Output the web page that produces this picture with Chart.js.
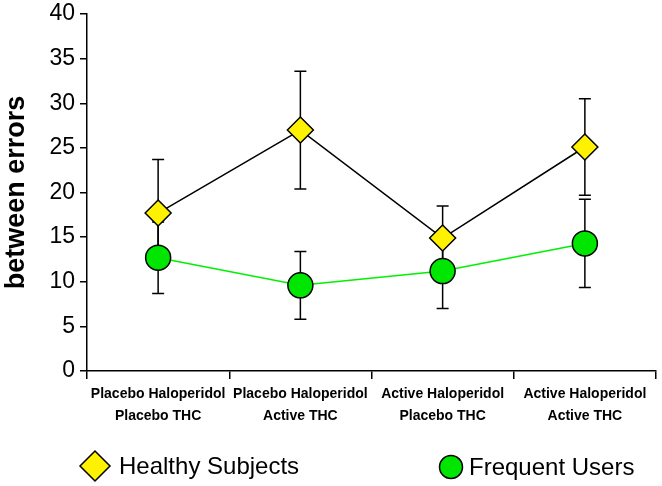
<!DOCTYPE html>
<html>
<head>
<meta charset="utf-8">
<script src="https://cdn.jsdelivr.net/npm/chart.js@4.4.1/dist/chart.umd.min.js"></script>
<style>
  html, body { margin: 0; padding: 0; background: #fff; overflow: hidden; }
  canvas { display: block; }
</style>
</head>
<body>
<canvas id="chart" width="662" height="486"></canvas>
<script>
// data
var conditions = [
    ['Placebo Haloperidol', 'Placebo THC'],
    ['Placebo Haloperidol', 'Active THC'],
    ['Active Haloperidol', 'Placebo THC'],
    ['Active Haloperidol', 'Active THC']
];
var healthyMeans = [17.7, 27.0, 14.9, 25.1];
var healthyErrors = [6.0, 6.6, 3.6, 5.4];
var frequentMeans = [12.7, 9.6, 11.2, 14.3];
var frequentErrors = [4.0, 3.8, 4.2, 4.95];
var yTicks = [0, 5, 10, 15, 20, 25, 30, 35, 40];

var FONT = "'Liberation Sans', Arial, Helvetica, sans-serif";

// error bars, drawn under the lines and markers
var errorBars = {
    id: 'errorBars',
    beforeDatasetsDraw: function (chart) {
        var ctx = chart.ctx;
        var y = chart.scales.y;
        ctx.save();
        ctx.strokeStyle = '#000';
        ctx.lineWidth = 1.5;
        chart.data.datasets.forEach(function (ds, i) {
            var meta = chart.getDatasetMeta(i);
            meta.data.forEach(function (pt, j) {
                var top = y.getPixelForValue(ds.data[j] + ds.errors[j]);
                var bot = y.getPixelForValue(ds.data[j] - ds.errors[j]);
                ctx.beginPath();
                ctx.moveTo(pt.x, top); ctx.lineTo(pt.x, bot);
                ctx.moveTo(pt.x - 6, top); ctx.lineTo(pt.x + 6, top);
                ctx.moveTo(pt.x - 6, bot); ctx.lineTo(pt.x + 6, bot);
                ctx.stroke();
            });
        });
        ctx.restore();
    }
};

// legend under the axis, spread like the original
var bottomLegend = {
    id: 'bottomLegend',
    afterDraw: function (chart) {
        var ctx = chart.ctx;
        var items = [
            { ds: chart.data.datasets[0], x: 95, y: 466, r: 15, tx: 119 },
            { ds: chart.data.datasets[1], x: 451, y: 467, r: 11.5, tx: 469 }
        ];
        ctx.save();
        items.forEach(function (it) {
            ctx.fillStyle = it.ds.pointBackgroundColor;
            ctx.strokeStyle = '#000';
            ctx.lineWidth = 1.5;
            Chart.helpers.drawPoint(ctx, { pointStyle: it.ds.pointStyle, radius: it.r, borderWidth: 1.5 }, it.x, it.y);
            ctx.fillStyle = '#000';
            ctx.font = '24px ' + FONT;
            ctx.textBaseline = 'middle';
            ctx.textAlign = 'left';
            ctx.fillText(it.ds.label, it.tx, it.y + 1);
        });
        ctx.restore();
    }
};

var ctx = document.getElementById('chart').getContext('2d');
var chart = new Chart(ctx, {
    type: 'line',
    data: {
        labels: conditions,
        datasets: [{
            label: 'Healthy Subjects',
            data: healthyMeans,
            errors: healthyErrors,
            borderColor: '#000',
            borderWidth: 1.5,
            pointStyle: 'rectRot',
            pointRadius: 13,
            pointHoverRadius: 13,
            pointBackgroundColor: '#fff200',
            pointBorderColor: '#000',
            pointBorderWidth: 1.5
        }, {
            label: 'Frequent Users',
            data: frequentMeans,
            errors: frequentErrors,
            borderColor: '#00f000',
            borderWidth: 1.5,
            pointStyle: 'circle',
            pointRadius: 12.5,
            pointHoverRadius: 12.5,
            pointBackgroundColor: '#00e600',
            pointBorderColor: '#000',
            pointBorderWidth: 1.5
        }]
    },
    options: {
        responsive: false,
        animation: false,
        layout: { autoPadding: false, padding: { top: 14, right: 6, bottom: 55, left: 0 } },
        plugins: {
            legend: { display: false },
            tooltip: { enabled: false }
        },
        scales: {
            x: {
                offset: true,
                afterFit: function (scale) { scale.paddingLeft = 0; scale.paddingRight = 0; },
                grid: { offset: true, drawOnChartArea: false, color: '#000', tickLength: 8, lineWidth: 1.5 },
                border: { color: '#000', width: 1.5 },
                ticks: {
                    color: '#000',
                    padding: 4,
                    maxRotation: 0,
                    autoSkip: false,
                    font: { family: FONT, size: 14, weight: 'bold', lineHeight: 1.57 }
                }
            },
            y: {
                min: 0,
                max: 40,
                afterFit: function (scale) {
                    scale.width = 87;
                    scale.paddingTop = 0;
                    scale.paddingBottom = 0;
                },
                afterBuildTicks: function (scale) {
                    scale.ticks = yTicks.map(function (v) { return { value: v }; });
                },
                grid: { drawOnChartArea: false, color: '#000', tickLength: 7, lineWidth: 1.5 },
                border: { color: '#000', width: 1.5 },
                ticks: {
                    color: '#000',
                    padding: 5,
                    font: { family: FONT, size: 23 }
                },
                title: {
                    display: true,
                    text: 'between errors',
                    color: '#000',
                    padding: { top: 0, bottom: 0 },
                    font: { family: FONT, size: 27, weight: 'bold' }
                }
            }
        }
    },
    plugins: [errorBars, bottomLegend]
});
</script>
</body>
</html>
